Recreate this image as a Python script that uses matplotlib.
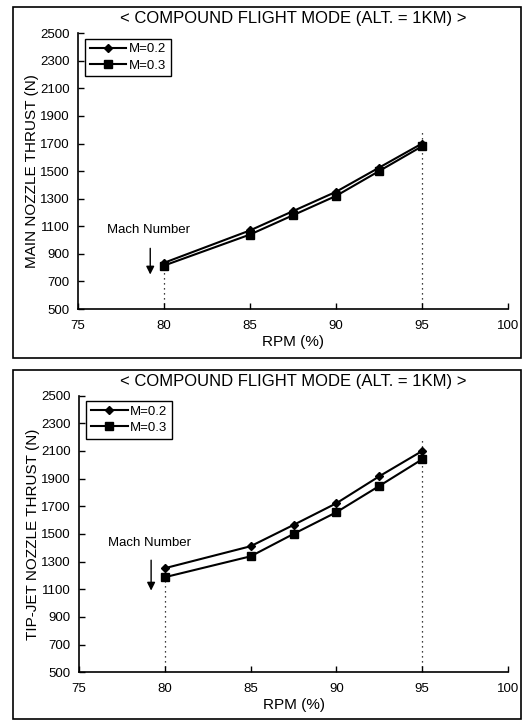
# compound flight mode thrust vs rpm, two stacked panels
import matplotlib.pyplot as plt
from matplotlib.patches import Rectangle

rpm = [80, 85, 87.5, 90, 92.5, 95]

main_m02 = [835, 1070, 1210, 1350, 1525, 1700]
main_m03 = [815, 1040, 1180, 1320, 1500, 1680]

tip_m02 = [1252, 1411, 1565, 1722, 1917, 2100]
tip_m03 = [1187, 1338, 1500, 1657, 1847, 2040]

xticks = [75, 80, 85, 90, 95, 100]
yticks = [500, 700, 900, 1100, 1300, 1500, 1700, 1900, 2100, 2300, 2500]

title = "< COMPOUND FLIGHT MODE (ALT. = 1KM) >"

plt.rcParams['font.family'] = ['Liberation Sans', 'DejaVu Sans']

fig = plt.figure(figsize=(5.27, 7.22), dpi=100)


def draw_panel(ax, m02, m03, ylabel, vtop95, vtop80, txt_y, arr_top, arr_bot):
    ax.plot(rpm, m02, color="black", lw=1.5, marker="D", ms=4.5, label="M=0.2")
    ax.plot(rpm, m03, color="black", lw=1.5, marker="s", ms=5.5, label="M=0.3")
    ax.vlines(80, 500, vtop80, colors="black", linestyles=(0, (1, 3)), lw=0.9)
    ax.vlines(95, 500, vtop95, colors="black", linestyles=(0, (1, 3)), lw=0.9)
    ax.text(76.7, txt_y, "Mach Number", fontsize=9.5, va="center")
    ax.annotate("", xy=(79.2, arr_bot), xytext=(79.2, arr_top),
                arrowprops=dict(arrowstyle="-|>", color="black", lw=1.0,
                                mutation_scale=12))
    ax.set_xlim(75, 100)
    ax.set_ylim(500, 2500)
    ax.set_xticks(xticks)
    ax.set_yticks(yticks)
    ax.tick_params(direction="in", length=4, labelsize=9.5, width=1)
    ax.tick_params(axis="x", pad=8)
    ax.tick_params(axis="y", pad=6)
    ax.spines["top"].set_visible(False)
    ax.spines["right"].set_visible(False)
    ax.spines["left"].set_linewidth(1.2)
    ax.spines["bottom"].set_linewidth(1.2)
    ax.set_xlabel("RPM (%)", fontsize=11, labelpad=2)
    ax.set_ylabel(ylabel, fontsize=11, labelpad=1)
    leg = ax.legend(loc="upper left", bbox_to_anchor=(0.01, 0.99), fontsize=9.5,
                    fancybox=False, edgecolor="black", framealpha=1,
                    handlelength=2.8, borderpad=0.35, labelspacing=0.3,
                    handletextpad=0.2, borderaxespad=0.2)
    leg.get_frame().set_linewidth(1.0)


ax1 = fig.add_axes([0.148, 0.572, 0.816, 0.382])
draw_panel(ax1, main_m02, main_m03, "MAIN NOZZLE THRUST (N)", 1790, 820, 1075, 960, 730)
fig.text(0.556, 0.975, title, ha="center", va="center", fontsize=12)

ax2 = fig.add_axes([0.150, 0.069, 0.814, 0.383])
draw_panel(ax2, tip_m02, tip_m03, "TIP-JET NOZZLE THRUST (N)", 2200, 1300, 1432, 1330, 1070)
fig.text(0.556, 0.471, title, ha="center", va="center", fontsize=12)

fig.patches.append(Rectangle((0.025, 0.504), 0.964, 0.486, transform=fig.transFigure,
                             fill=False, edgecolor="black", lw=1.2))
fig.patches.append(Rectangle((0.025, 0.004), 0.964, 0.484, transform=fig.transFigure,
                             fill=False, edgecolor="black", lw=1.2))

plt.savefig("out.png", dpi=100)
